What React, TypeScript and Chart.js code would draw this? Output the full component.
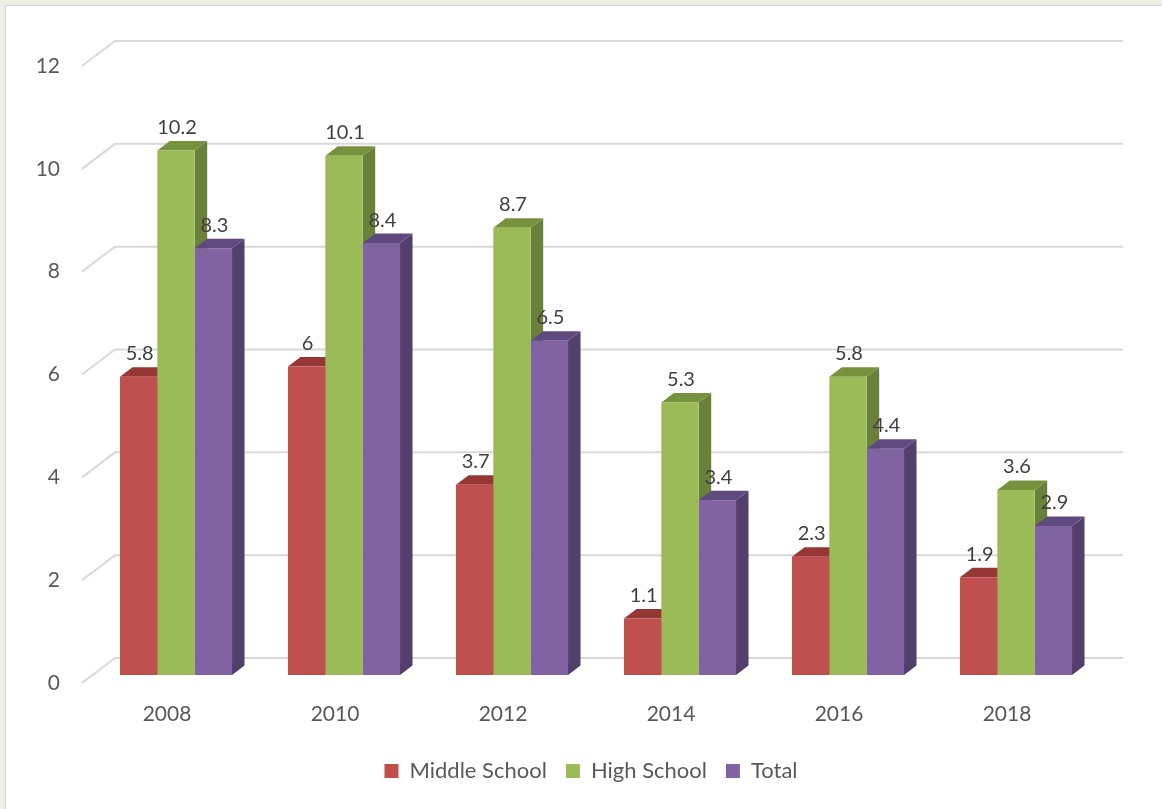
import React, { useEffect, useRef } from "react";
import { Chart, registerables } from "chart.js";

Chart.register(...registerables);

const categories = ["2008", "2010", "2012", "2014", "2016", "2018"];
const middleSchool = [5.8, 6, 3.7, 1.1, 2.3, 1.9];
const highSchool = [10.2, 10.1, 8.7, 5.3, 5.8, 3.6];
const total = [8.3, 8.4, 6.5, 3.4, 4.4, 2.9];
const seriesNames = ["Middle School", "High School", "Total"];
const yTicks = { min: 0, max: 12, step: 2 };

const FRONT = ["#C0504D", "#9BBB59", "#8064A2"];
const SIDE = ["#8C3836", "#6A813A", "#533F6B"];
const TOP = ["#953735", "#76923C", "#5F4A80"];

const FONT = "Lato, 'Open Sans', sans-serif";
const DEPTH = { dx: 12.5, dy: -9.5 };
const WALL = { dx: 23, dy: -17 };
const FRONTPLANE = { dx: -10, dy: 8 };

const threeD = {
  id: "threeD",
  beforeDraw(chart: any) {
    const { ctx, width, height } = chart;
    ctx.save();
    ctx.fillStyle = "#EEEEE2";
    ctx.fillRect(0, 0, width, height);
    ctx.fillStyle = "#FFFFFF";
    ctx.fillRect(6, 6, width - 6, height - 6);
    ctx.strokeStyle = "#D4D4D4";
    ctx.lineWidth = 1;
    ctx.beginPath();
    ctx.moveTo(5.5, height);
    ctx.lineTo(5.5, 5.5);
    ctx.lineTo(width, 5.5);
    ctx.stroke();
    ctx.restore();
  },
  beforeDatasetsDraw(chart: any) {
    const { ctx, chartArea } = chart;
    const ys = chart.scales.y;
    ctx.save();
    ctx.strokeStyle = "#D9D9D9";
    ctx.lineWidth = 2;
    ys.ticks.forEach((t: any) => {
      const y = ys.getPixelForValue(t.value);
      ctx.beginPath();
      ctx.moveTo(chartArea.left + FRONTPLANE.dx, y + FRONTPLANE.dy);
      ctx.lineTo(chartArea.left + WALL.dx, y + WALL.dy);
      ctx.lineTo(chartArea.right + WALL.dx, y + WALL.dy);
      ctx.stroke();
    });
    const n = chart.data.labels.length;
    for (let i = 0; i < n; i++) {
      chart.data.datasets.forEach((_ds: any, d: number) => {
        const el = chart.getDatasetMeta(d).data[i];
        const { x, y, base, width } = el.getProps(["x", "y", "base", "width"], true);
        const l = x - width / 2;
        const r = x + width / 2;
        ctx.fillStyle = SIDE[d];
        ctx.beginPath();
        ctx.moveTo(r, y);
        ctx.lineTo(r + DEPTH.dx, y + DEPTH.dy);
        ctx.lineTo(r + DEPTH.dx, base + DEPTH.dy);
        ctx.lineTo(r, base);
        ctx.closePath();
        ctx.fill();
        ctx.fillStyle = TOP[d];
        ctx.beginPath();
        ctx.moveTo(l, y);
        ctx.lineTo(r, y);
        ctx.lineTo(r + DEPTH.dx, y + DEPTH.dy);
        ctx.lineTo(l + DEPTH.dx, y + DEPTH.dy);
        ctx.closePath();
        ctx.fill();
      });
    }
    ctx.restore();
  },
  afterDatasetsDraw(chart: any) {
    const { ctx } = chart;
    ctx.save();
    ctx.font = `20px ${FONT}`;
    ctx.fillStyle = "#404040";
    ctx.textAlign = "center";
    ctx.textBaseline = "middle";
    chart.data.datasets.forEach((ds: any, d: number) => {
      chart.getDatasetMeta(d).data.forEach((el: any, i: number) => {
        const { x, y } = el.getProps(["x", "y"], true);
        ctx.fillText(String(ds.data[i]), x + 1, y - 23);
      });
    });
    ctx.restore();
  },
};

export default function App() {
  const ref = useRef<HTMLCanvasElement | null>(null);
  useEffect(() => {
    if (!ref.current) return;
    const chart = new Chart(ref.current, {
      type: "bar",
      data: {
        labels: categories,
        datasets: [middleSchool, highSchool, total].map((vals, d) => ({
          label: seriesNames[d],
          data: vals,
          backgroundColor: FRONT[d],
          borderWidth: 0,
          categoryPercentage: 0.667,
          barPercentage: 1,
        })),
      },
      options: {
        responsive: false,
        animation: false,
        layout: { padding: { left: 20, right: 0, top: 58, bottom: 17 } },
        plugins: {
          tooltip: { enabled: false },
          legend: {
            position: "bottom",
            labels: {
              boxWidth: 14,
              boxHeight: 14,
              padding: 19,
              color: "#595959",
              font: { family: FONT, size: 22 },
            },
          },
        },
        scales: {
          x: {
            grid: { display: false, drawTicks: false },
            border: { display: false },
            ticks: { color: "#595959", font: { family: FONT, size: 21 }, padding: 27, labelOffset: -9 },
            afterFit: (s: any) => { s.height = 66; },
          },
          y: {
            min: yTicks.min,
            max: yTicks.max,
            grid: { display: false, drawTicks: false },
            border: { display: false },
            ticks: { stepSize: yTicks.step, color: "#595959", font: { family: FONT, size: 21 }, padding: 32, labelOffset: 8 },
            afterFit: (s: any) => { s.width = 72; },
          },
          yRight: {
            position: "right",
            min: yTicks.min,
            max: yTicks.max,
            grid: { display: false, drawTicks: false },
            border: { display: false },
            ticks: { display: false },
            afterFit: (s: any) => { s.width = 62; },
          },
        },
      },
      plugins: [threeD],
    });
    return () => chart.destroy();
  }, []);
  return (
    <div style={{ position: "fixed", left: 0, top: 0, width: 1162, height: 809 }}>
      <canvas ref={ref} width={1162} height={809} style={{ display: "block" }} />
    </div>
  );
}
